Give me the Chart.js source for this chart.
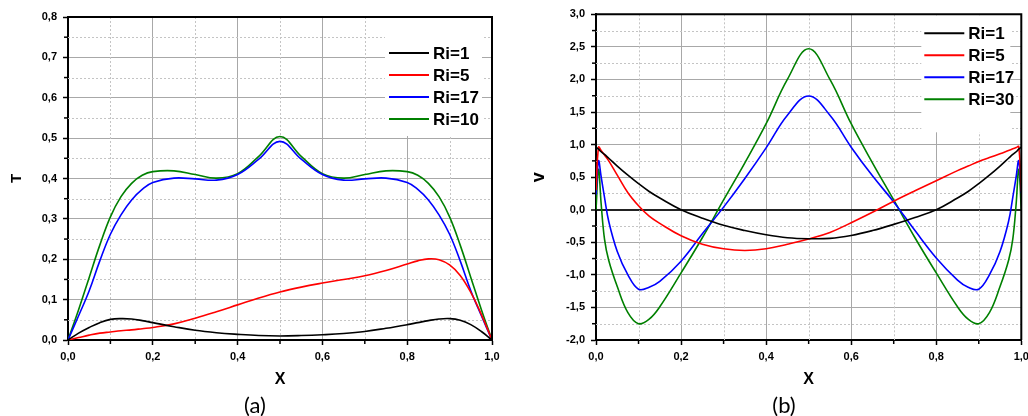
<!DOCTYPE html>
<html>
<head>
<meta charset="utf-8">
<script src="https://cdn.jsdelivr.net/npm/chart.js@4.4.1/dist/chart.umd.min.js"></script>
<style>
  html, body { margin: 0; padding: 0; background: #fff; }
  #wrap { position: relative; width: 1028px; height: 416px; overflow: hidden; background: #fff; }
  canvas { position: absolute; top: 0; }
  .cap { position: absolute; top: 391px; width: 80px; height: 28px; line-height: 28px; text-align: center;
         font-family: Lato, "Open Sans", sans-serif; font-size: 22px; color: #000; }
</style>
</head>
<body>
<div id="wrap">
  <canvas id="cT" width="514" height="416" style="left:0px"></canvas>
  <canvas id="cV" width="514" height="416" style="left:514px"></canvas>
  <div class="cap" style="left:215px">(a)</div>
  <div class="cap" style="left:744px">(b)</div>
</div>
<script>
// ---------- data: panel (a) temperature T ----------
const X_T = [0, 0.025, 0.05, 0.075, 0.1, 0.125, 0.15, 0.175, 0.2, 0.25, 0.3, 0.35, 0.4, 0.45, 0.5,
             0.55, 0.6, 0.65, 0.7, 0.75, 0.8, 0.825, 0.85, 0.875, 0.9, 0.925, 0.95, 0.975, 1];
const T_RI1  = [0, 0.017, 0.031, 0.043, 0.051, 0.053, 0.052, 0.048, 0.043, 0.033, 0.024, 0.018, 0.014, 0.011, 0.010,
                0.011, 0.013, 0.016, 0.021, 0.029, 0.038, 0.043, 0.048, 0.052, 0.053, 0.049, 0.038, 0.021, 0];
const T_RI5  = [0, 0.006, 0.012, 0.017, 0.020, 0.023, 0.025, 0.028, 0.031, 0.040, 0.054, 0.070, 0.087, 0.104, 0.119,
                0.131, 0.141, 0.150, 0.159, 0.172, 0.188, 0.196, 0.201, 0.199, 0.186, 0.160, 0.118, 0.063, 0];
const T_RI17 = [0, 0.06, 0.122, 0.196, 0.262, 0.31, 0.347, 0.373, 0.39, 0.401, 0.399, 0.396, 0.41, 0.448, 0.492,
                0.448, 0.41, 0.396, 0.399, 0.401, 0.39, 0.373, 0.347, 0.31, 0.262, 0.196, 0.122, 0.06, 0];
const T_RI10 = [0, 0.075, 0.155, 0.235, 0.305, 0.355, 0.388, 0.408, 0.417, 0.419, 0.41, 0.401, 0.412, 0.455, 0.504,
                0.455, 0.412, 0.401, 0.41, 0.419, 0.417, 0.408, 0.388, 0.355, 0.305, 0.235, 0.155, 0.075, 0];
const LABELS_T = ['Ri=1', 'Ri=5', 'Ri=17', 'Ri=10'];

// ---------- data: panel (b) velocity v ----------
const X_V = [0, 0.006, 0.012, 0.02, 0.03, 0.05, 0.075, 0.1, 0.125, 0.15, 0.2, 0.25, 0.3, 0.35, 0.4, 0.45, 0.5,
             0.55, 0.6, 0.65, 0.7, 0.75, 0.8, 0.85, 0.875, 0.9, 0.925, 0.95, 0.97, 0.98, 0.988, 0.994, 1];
const V_RI1  = [0.96, 0.93, 0.89, 0.85, 0.79, 0.67, 0.53, 0.40, 0.28, 0.18, 0.0, -0.13, -0.24, -0.32, -0.385, -0.43, -0.445,
                -0.44, -0.395, -0.32, -0.225, -0.12, 0.0, 0.18, 0.28, 0.40, 0.53, 0.67, 0.79, 0.85, 0.89, 0.93, 0.96];
const V_RI5  = [0.30, 0.96, 0.91, 0.84, 0.75, 0.53, 0.26, 0.06, -0.10, -0.21, -0.40, -0.53, -0.60, -0.625, -0.60, -0.53, -0.45,
                -0.35, -0.20, -0.04, 0.13, 0.29, 0.445, 0.60, 0.67, 0.74, 0.80, 0.86, 0.91, 0.935, 0.955, 0.97, 0.28];
const V_RI17 = [0.23, 0.75, 0.51, 0.19, -0.18, -0.64, -1.00, -1.22, -1.19, -1.10, -0.79, -0.37, 0.04, 0.48, 0.95, 1.45, 1.745,
                1.45, 0.96, 0.52, 0.12, -0.32, -0.74, -1.08, -1.19, -1.22, -1.00, -0.64, -0.18, 0.19, 0.51, 0.75, 0.25];
const V_RI30 = [0, 0.62, 0.10, -0.45, -0.78, -1.18, -1.58, -1.75, -1.68, -1.49, -0.97, -0.43, 0.15, 0.72, 1.32, 2.0, 2.47,
                2.0, 1.32, 0.72, 0.15, -0.43, -0.97, -1.49, -1.68, -1.75, -1.58, -1.18, -0.78, -0.45, 0.10, 0.62, 0];
const LABELS_V = ['Ri=1', 'Ri=5', 'Ri=17', 'Ri=30'];

const COLORS = ['#000000', '#ff0000', '#0000ff', '#008000'];

// ---------- helpers ----------
const pts = (xs, ys) => xs.map((x, i) => ({ x: x, y: ys[i] }));
const fmt = v => Number(v).toFixed(1).replace('.', ',');
const TICK_FONT = { family: '"Liberation Sans", Arial, sans-serif', weight: 'bold', size: 11 };

// minor grid, minor ticks, legend box, frame
const decorPlugin = {
  id: 'decor',
  beforeDatasetsDraw(chart, args, o) {
    const ctx = chart.ctx, a = chart.chartArea;
    const xs = chart.scales.x, ys = chart.scales.y;
    const mids = s => { const t = s.ticks, r = []; for (let i = 0; i < t.length - 1; i++) r.push((t[i].value + t[i + 1].value) / 2); return r; };
    const mx = mids(xs), my = mids(ys);
    ctx.save();
    ctx.strokeStyle = '#c4c4c4'; ctx.lineWidth = 1; ctx.setLineDash([2, 2]);
    mx.forEach(v => { const p = Math.round(xs.getPixelForValue(v)) + 0.5; ctx.beginPath(); ctx.moveTo(p, a.top); ctx.lineTo(p, a.bottom); ctx.stroke(); });
    my.forEach(v => { const p = Math.round(ys.getPixelForValue(v)) + 0.5; ctx.beginPath(); ctx.moveTo(a.left, p); ctx.lineTo(a.right, p); ctx.stroke(); });
    ctx.setLineDash([]);
    ctx.strokeStyle = '#000'; ctx.lineWidth = 1.5;
    mx.forEach(v => { const p = xs.getPixelForValue(v); ctx.beginPath(); ctx.moveTo(p, a.bottom); ctx.lineTo(p, a.bottom + 4); ctx.stroke(); });
    my.forEach(v => { const p = ys.getPixelForValue(v); ctx.beginPath(); ctx.moveTo(a.left, p); ctx.lineTo(a.left - 4, p); ctx.stroke(); });
    ctx.fillStyle = '#fff';
    ctx.fillRect(a.right - o.boxL, a.top + 1, o.boxL - o.boxR, o.boxH);
    const lx = a.right - o.lineL;
    ctx.font = 'bold 17px "Liberation Sans", Arial, sans-serif';
    ctx.textBaseline = 'middle'; ctx.textAlign = 'left';
    chart.data.datasets.forEach((ds, i) => {
      const y = a.top + o.row0 + i * o.rowGap;
      ctx.strokeStyle = ds.borderColor; ctx.lineWidth = 2;
      ctx.beginPath(); ctx.moveTo(lx, y); ctx.lineTo(lx + 40, y); ctx.stroke();
      ctx.fillStyle = '#000';
      ctx.fillText(ds.label, lx + 44, y + 1);
    });
    ctx.restore();
  },
  afterDatasetsDraw(chart) {
    const ctx = chart.ctx, a = chart.chartArea;
    ctx.save();
    ctx.strokeStyle = '#000'; ctx.lineWidth = 2;
    ctx.beginPath(); ctx.moveTo(a.left, a.top); ctx.lineTo(a.right, a.top); ctx.lineTo(a.right, a.bottom); ctx.stroke();
    ctx.restore();
  }
};

function makeChart(id, xs, series, labels, cfg) {
  return new Chart(document.getElementById(id), {
    type: 'line',
    data: {
      datasets: series.map((ys, i) => ({
        label: labels[i], data: pts(xs, ys), borderColor: COLORS[i], backgroundColor: COLORS[i],
        borderWidth: 1.6, pointRadius: 0, fill: false, tension: 0.4
      }))
    },
    options: {
      responsive: false, animation: false, devicePixelRatio: 1,
      layout: { padding: cfg.padding },
      plugins: { legend: { display: false }, tooltip: { enabled: false }, decor: cfg.legend },
      scales: {
        x: {
          type: 'linear', position: 'bottom', min: 0, max: 1,
          ticks: { stepSize: 0.2, padding: 5, color: '#000', font: TICK_FONT, maxRotation: 0, autoSkip: false, callback: fmt },
          grid: { color: '#a8a8a8', lineWidth: 1, tickLength: 5, tickColor: '#000', tickWidth: 1.5 },
          border: { display: true, color: '#000', width: 2 },
          title: { display: true, text: 'X', color: '#000', font: { family: '"Liberation Sans", Arial, sans-serif', weight: 'bold', size: 16 }, padding: { top: 0, bottom: 26.4 } },
          afterFit: s => { s.height = cfg.xAxisH; s.paddingLeft = 0; s.paddingRight = 0; }
        },
        y: {
          type: 'linear', position: 'left', min: cfg.yMin, max: cfg.yMax,
          ticks: { stepSize: cfg.yStep, padding: 6, color: '#000', font: TICK_FONT, autoSkip: false, callback: fmt },
          grid: {
            color: c => (cfg.zeroLine && c.tick && Math.abs(c.tick.value) < 1e-9) ? '#222' : '#a8a8a8',
            lineWidth: c => (cfg.zeroLine && c.tick && Math.abs(c.tick.value) < 1e-9) ? 2 : 1,
            tickLength: 5, tickColor: '#000', tickWidth: 1.5
          },
          border: { display: true, color: '#000', width: 2 },
          title: { display: true, text: cfg.yTitle, color: '#000', font: { family: '"Liberation Sans", Arial, sans-serif', weight: 'bold', size: cfg.yTitleSize }, padding: { top: cfg.yTitlePad, bottom: 0 } },
          afterFit: s => { s.width = cfg.yAxisW; s.paddingTop = 0; s.paddingBottom = 0; }
        }
      }
    },
    plugins: [decorPlugin]
  });
}

makeChart('cT', X_T, [T_RI1, T_RI5, T_RI17, T_RI10], LABELS_T, {
  padding: { left: 0, top: 17, right: 22, bottom: 0 },
  yMin: 0, yMax: 0.8, yStep: 0.1, yTitle: 'T', yTitleSize: 15, yTitlePad: 8,
  yAxisW: 68, xAxisH: 76, zeroLine: false,
  legend: { boxL: 107, boxR: 10, boxH: 118, lineL: 103, row0: 36, rowGap: 22 }
});

makeChart('cV', X_V, [V_RI1, V_RI5, V_RI17, V_RI30], LABELS_V, {
  padding: { left: 0, top: 14.3, right: 6.7, bottom: 0 },
  yMin: -2, yMax: 3, yStep: 0.5, yTitle: 'v', yTitleSize: 18, yTitlePad: 14,
  yAxisW: 82, xAxisH: 76, zeroLine: true,
  legend: { boxL: 100, boxR: 11, boxH: 117, lineL: 97, row0: 19, rowGap: 22 }
});
</script>
</body>
</html>
